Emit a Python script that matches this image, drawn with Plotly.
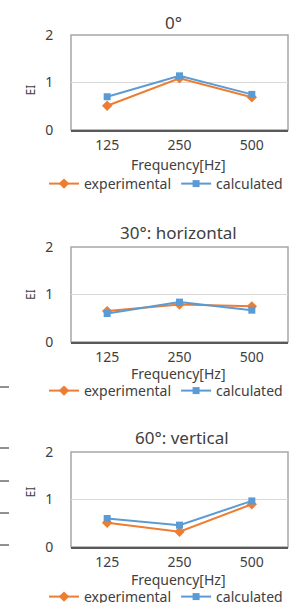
import plotly.graph_objects as go

freqs = ["125", "250", "500"]
titles = ["0°", "30°: horizontal", "60°: vertical"]
experimental = [
    [0.51, 1.09, 0.69],
    [0.65, 0.79, 0.75],
    [0.51, 0.32, 0.90],
]
calculated = [
    [0.70, 1.14, 0.75],
    [0.60, 0.84, 0.67],
    [0.60, 0.46, 0.97],
]
y_ticks = [0, 1, 2]

W, H = 302, 603
ORANGE = "#ED7D31"
BLUE = "#5B9BD5"
TXT = "#404040"
FONT = "Noto Sans"

# panel layout in pixels: plot top, plot bottom, title y, title x, xtitle y, legend y
panels = [
    dict(top=35, bot=130, ty=22, tx=174, fy=164, ly=184),
    dict(top=247, bot=342, ty=232, tx=178, fy=373, ly=391),
    dict(top=452, bot=547, ty=437, tx=182, fy=579, ly=597),
]
x_left, x_right = 71, 288


def py(p):
    return 1 - p / H


fig = go.Figure()
annotations = []
shapes = []
for i, P in enumerate(panels):
    top, bot = P["top"], P["bot"]
    sfx = "" if i == 0 else str(i + 1)
    xa, ya = "x" + sfx, "y" + sfx
    lg = "legend" + sfx
    fig.add_trace(go.Scatter(
        x=freqs, y=experimental[i], name="experimental", mode="lines+markers",
        line=dict(color=ORANGE, width=2), marker=dict(symbol="diamond", size=8, color=ORANGE),
        xaxis=xa, yaxis=ya, legend=lg))
    fig.add_trace(go.Scatter(
        x=freqs, y=calculated[i], name="calculated", mode="lines+markers",
        line=dict(color=BLUE, width=2), marker=dict(symbol="square", size=7, color=BLUE),
        xaxis=xa, yaxis=ya, legend=lg))
    dom_y = [py(bot), py(top)]
    fig.update_layout(**{
        "xaxis" + sfx: dict(domain=[x_left / W, x_right / W], type="category",
                            range=[-0.5, 2.5], anchor=ya, showline=True, linecolor="#595959",
                            linewidth=1.5, showgrid=False, ticks="outside", ticklen=1,
                            tickcolor="rgba(0,0,0,0)",
                            tickfont=dict(size=14, color=TXT, family=FONT)),
        "yaxis" + sfx: dict(domain=dom_y, range=[0, 2], tickvals=y_ticks, anchor=xa,
                            showline=False, showgrid=True, gridcolor="#d9d9d9", gridwidth=1,
                            zeroline=False, ticks="outside", ticklen=14,
                            tickcolor="rgba(0,0,0,0)",
                            tickfont=dict(size=14, color=TXT, family=FONT)),
        lg: dict(orientation="h", x=166 / W, xanchor="center", y=py(P["ly"]), yanchor="middle",
                 font=dict(size=14, color=TXT, family=FONT), bgcolor="rgba(0,0,0,0)",
                 itemwidth=30, tracegroupgap=0),
    })
    # plot-area border
    shapes.append(dict(type="rect", xref="paper", yref="paper", x0=x_left / W, x1=x_right / W,
                       y0=dom_y[0], y1=dom_y[1], line=dict(color="#a6a6a6", width=1.5), layer="below"))
    annotations.append(dict(text=titles[i], x=P["tx"] / W, y=py(P["ty"]), xref="paper", yref="paper",
                            showarrow=False, font=dict(size=17, color=TXT, family=FONT), yanchor="middle"))
    annotations.append(dict(text="EI", x=20 / W, y=py((top + bot) / 2), xref="paper", yref="paper",
                            showarrow=False, textangle=-90, font=dict(size=12, color=TXT, family=FONT)))
    annotations.append(dict(text="Frequency[Hz]", x=178 / W, y=py(P["fy"]),
                            xref="paper", yref="paper", showarrow=False, yanchor="middle",
                            font=dict(size=14, color=TXT, family=FONT)))

# cropped tick marks from a neighbouring figure at the left edge
for yy in [387, 448, 481, 513, 545]:
    shapes.append(dict(type="line", xref="paper", yref="paper", x0=0, x1=9 / W,
                       y0=py(yy), y1=py(yy), line=dict(color="#222222", width=1)))

fig.update_layout(width=W, height=H, margin=dict(l=0, r=0, t=0, b=0, autoexpand=False),
                  paper_bgcolor="white", plot_bgcolor="white",
                  annotations=annotations, shapes=shapes, showlegend=True,
                  font=dict(family=FONT))
fig.write_html("out.html", config={"displayModeBar": False},
               post_script="document.body.style.margin='0px';")
